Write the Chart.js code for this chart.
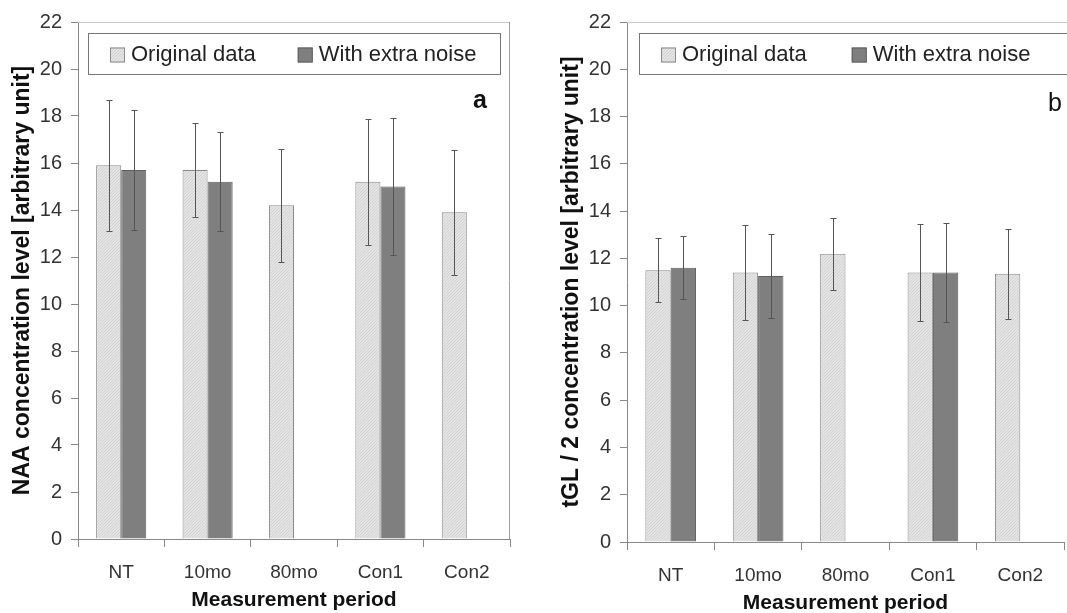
<!DOCTYPE html>
<html>
<head>
<meta charset="utf-8">
<script src="https://cdn.jsdelivr.net/npm/chart.js@4.4.0/dist/chart.umd.min.js"></script>
<style>
html, body { margin: 0; padding: 0; background: #fff; }
#wrap { position: relative; width: 1067px; height: 613px; overflow: hidden; }
canvas { position: absolute; top: 0; }
</style>
</head>
<body>
<div id="wrap">
  <canvas id="naaChart" width="533" height="613" style="left:0;width:533px;height:613px"></canvas>
  <canvas id="tglChart" width="518" height="613" style="left:549px;width:518px;height:613px"></canvas>
</div>
<script>
// Data
const categories = ['NT', '10mo', '80mo', 'Con1', 'Con2'];
const seriesNames = ['Original data', 'With extra noise'];

const naaOriginal = [15.9, 15.7, 14.2, 15.2, 13.9];
const naaOriginalErr = [2.8, 2.0, 2.4, 2.67, 2.65];
const naaNoise = [15.7, 15.2, null, 15.0, null];
const naaNoiseErr = [2.55, 2.1, null, 2.9, null];

const tglOriginal = [11.5, 11.4, 12.2, 11.4, 11.35];
const tglOriginalErr = [1.35, 2.0, 1.52, 2.07, 1.9];
const tglNoise = [11.6, 11.25, null, 11.4, null];
const tglNoiseErr = [1.33, 1.77, null, 2.1, null];

const yMin = 0, yMax = 22, yStep = 2;

const FONT = "'Liberation Sans', Arial, sans-serif";

// light dotted fill used for the "original" bars
function stipple() {
    const c = document.createElement('canvas');
    c.width = 3; c.height = 3;
    const g = c.getContext('2d');
    g.fillStyle = '#e4e4e4';
    g.fillRect(0, 0, 3, 3);
    g.fillStyle = '#d2d2d2';
    g.fillRect(0, 0, 1, 1);
    g.fillRect(2, 1, 1, 1);
    g.fillRect(1, 2, 1, 1);
    return g.createPattern(c, 'repeat');
}
const lightFill = stipple();

// error bars drawn from dataset.errors
const errorBars = {
    id: 'errorBars',
    afterDatasetsDraw(chart) {
        const ctx = chart.ctx;
        const y = chart.scales.y;
        chart.data.datasets.forEach((ds, i) => {
            const meta = chart.getDatasetMeta(i);
            meta.data.forEach((bar, j) => {
                const v = ds.data[j], e = ds.errors[j];
                if (v == null || e == null) return;
                const x = Math.round(bar.x) + 0.5;
                const top = Math.round(y.getPixelForValue(v + e)) + 0.5;
                const bot = Math.round(y.getPixelForValue(v - e)) + 0.5;
                ctx.save();
                ctx.strokeStyle = '#555';
                ctx.lineWidth = 1;
                ctx.beginPath();
                ctx.moveTo(x, top); ctx.lineTo(x, bot);
                ctx.moveTo(x - 3, top); ctx.lineTo(x + 3, top);
                ctx.moveTo(x - 3, bot); ctx.lineTo(x + 3, bot);
                ctx.stroke();
                ctx.restore();
            });
        });
    }
};

// plot frame, boxed legend and panel letter
const panelDecor = {
    id: 'panelDecor',
    afterDraw(chart, args, opts) {
        const ctx = chart.ctx;
        const a = chart.chartArea;
        ctx.save();
        // frame
        ctx.lineWidth = 1;
        ctx.strokeStyle = '#c8c8c8';
        ctx.beginPath();
        ctx.moveTo(a.left, a.top + 0.5);
        ctx.lineTo(opts.frameRight ? a.right : chart.width, a.top + 0.5);
        ctx.stroke();
        if (opts.frameRight) {
            ctx.strokeStyle = '#a0a0a0';
            ctx.beginPath();
            ctx.moveTo(a.right - 0.5, a.top);
            ctx.lineTo(a.right - 0.5, a.bottom);
            ctx.stroke();
        }
        // legend box
        const bx = a.left + opts.boxLeft, by = a.top + 11, bh = 41;
        const bw = opts.boxWidth;
        ctx.fillStyle = '#fff';
        ctx.fillRect(bx, by, bw, bh);
        ctx.strokeStyle = '#777';
        ctx.strokeRect(bx + 0.5, by + 0.5, bw, bh);
        ctx.font = '22px ' + FONT;
        ctx.textBaseline = 'middle';
        ctx.textAlign = 'left';
        let x = bx + 22;
        const cy = by + bh / 2 + 1;
        chart.data.datasets.forEach(ds => {
            ctx.fillStyle = ds.backgroundColor;
            ctx.fillRect(x, cy - 7, 15, 15);
            ctx.strokeStyle = ds.borderColor;
            ctx.strokeRect(x + 0.5, cy - 6.5, 14, 14);
            ctx.fillStyle = '#222';
            ctx.fillText(ds.label, x + 21, cy);
            x += 21 + ctx.measureText(ds.label).width + opts.itemGap;
        });
        // panel letter
        ctx.font = (opts.letterBold ? 'bold ' : '') + '25px ' + FONT;
        ctx.textAlign = 'center';
        ctx.fillStyle = '#111';
        ctx.fillText(opts.letter, opts.letterX, opts.letterY);
        ctx.restore();
    }
};

const config = (original, originalErr, noise, noiseErr, yTitle, layout, decor) => ({
    type: 'bar',
    data: {
        labels: categories,
        datasets: [{
            label: seriesNames[0],
            data: original,
            errors: originalErr,
            backgroundColor: lightFill,
            borderColor: '#8a8a8a',
            borderWidth: 1
        }, {
            label: seriesNames[1],
            data: noise,
            errors: noiseErr,
            backgroundColor: '#7f7f7f',
            borderColor: '#5e5e5e',
            borderWidth: 1
        }]
    },
    options: {
        responsive: false,
        animation: false,
        layout: { padding: { top: 22, right: layout.right, bottom: 0, left: 0 } },
        datasets: { bar: { categoryPercentage: 0.58, barPercentage: 1 } },
        scales: {
            x: {
                afterFit: s => { s.height = layout.xHeight; },
                grid: { drawOnChartArea: false, offset: true, tickLength: 8, color: '#888' },
                border: { color: '#888' },
                ticks: { color: '#333', font: { family: FONT, size: 19 }, padding: 14 },
                title: {
                    display: true,
                    text: 'Measurement period',
                    color: '#111',
                    font: { family: FONT, size: 21, weight: 'bold' },
                    padding: { top: 0, bottom: layout.titleBottom }
                }
            },
            y: {
                min: yMin, max: yMax,
                afterFit: s => { s.width = 78; },
                grid: { drawOnChartArea: false, tickLength: 7, color: '#888' },
                border: { color: '#888' },
                ticks: { stepSize: yStep, color: '#333', font: { family: FONT, size: 20 }, padding: 9 },
                title: {
                    display: true,
                    text: yTitle,
                    color: '#111',
                    font: { family: FONT, size: 23, weight: 'bold' },
                    padding: { top: 9, bottom: 0 }
                }
            }
        },
        plugins: {
            legend: { display: false },
            tooltip: { enabled: false },
            panelDecor: decor
        }
    },
    plugins: [errorBars, panelDecor]
});

const naaChart = new Chart(document.getElementById('naaChart').getContext('2d'),
    config(naaOriginal, naaOriginalErr, naaNoise, naaNoiseErr,
        'NAA concentration level [arbitrary unit]',
        { right: 23, xHeight: 74, titleBottom: 0 },
        { frameRight: true, boxLeft: 10, boxWidth: 412, itemGap: 42, letter: 'a', letterBold: true, letterX: 480, letterY: 101 }));

const tglChart = new Chart(document.getElementById('tglChart').getContext('2d'),
    config(tglOriginal, tglOriginalErr, tglNoise, tglNoiseErr,
        'tGL / 2 concentration level [arbitrary unit]',
        { right: 3, xHeight: 71, titleBottom: -3 },
        { frameRight: false, boxLeft: 12, boxWidth: 460, itemGap: 45, letter: 'b', letterBold: false, letterX: 506, letterY: 104 }));
</script>
</body>
</html>
